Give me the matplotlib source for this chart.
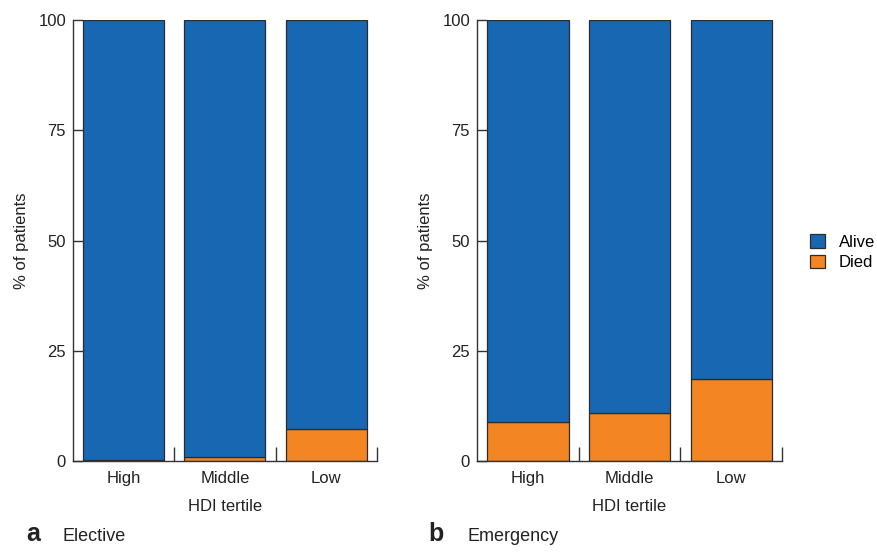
import matplotlib
matplotlib.use("Agg")
import matplotlib.pyplot as plt
from matplotlib.patches import Patch
import numpy as np

plt.rcParams['font.family'] = ['Liberation Sans', 'DejaVu Sans']

categories = ["High", "Middle", "Low"]
elective_died = [0.4, 1.1, 7.4]
emergency_died = [9.0, 11.0, 18.7]
y_ticks = [0, 25, 50, 75, 100]
panel_letters = ["a", "b"]
panel_titles = ["Elective", "Emergency"]
series_names = ["Alive", "Died"]

blue = "#1867B3"
orange = "#F38522"
edge = "#2b2b2b"
axcol = "#333333"

fig = plt.figure(figsize=(8.78, 5.54), dpi=100)
ax_a = fig.add_axes([0.0831, 0.1670, 0.3462, 0.7969])
ax_b = fig.add_axes([0.5433, 0.1670, 0.3474, 0.7969])

for ax, died in zip([ax_a, ax_b], [elective_died, emergency_died]):
    x = np.arange(1, len(categories) + 1)
    died = np.array(died)
    alive = 100 - died
    ax.bar(x, died, width=0.8, color=orange, edgecolor=edge, linewidth=0.9)
    ax.bar(x, alive, bottom=died, width=0.8, color=blue, edgecolor=edge, linewidth=0.9)
    ax.set_xlim(0.5, 3.5)
    ax.set_ylim(0, 100)
    for s in ["top", "right"]:
        ax.spines[s].set_visible(False)
    for s in ["left", "bottom"]:
        ax.spines[s].set_color(axcol)
        ax.spines[s].set_linewidth(1.0)
    ax.set_xticks(x)
    ax.set_xticklabels(categories, fontsize=12, color="#222222")
    ax.tick_params(axis="x", which="major", length=0, pad=7)
    ax.set_xticks([1.5, 2.5, 3.5], minor=True)
    ax.tick_params(axis="x", which="minor", direction="in", length=10, width=1.0, color=axcol)
    ax.set_yticks(y_ticks)
    ax.set_yticklabels([str(v) for v in y_ticks], fontsize=12, color="#222222")
    ax.tick_params(axis="y", direction="in", length=7, width=1.0, color=axcol, pad=5)
    ax.set_xlabel("HDI tertile", fontsize=12, color="#222222", labelpad=9)
    ax.set_ylabel("% of patients", fontsize=12, color="#222222", labelpad=6.5)

fig.text(0.030, 0.023, panel_letters[0], fontsize=18, fontweight="bold", color="#222222")
fig.text(0.071, 0.023, panel_titles[0], fontsize=13, color="#222222")
fig.text(0.488, 0.023, panel_letters[1], fontsize=18, fontweight="bold", color="#222222")
fig.text(0.533, 0.023, panel_titles[1], fontsize=13, color="#222222")

handles = [Patch(facecolor=blue, edgecolor=edge, linewidth=0.9),
           Patch(facecolor=orange, edgecolor=edge, linewidth=0.9)]
fig.legend(handles, series_names, loc="center left", bbox_to_anchor=(0.923, 0.545),
           frameon=False, fontsize=12, handlelength=0.9, handleheight=0.9,
           handletextpad=0.8, labelspacing=0.3, borderaxespad=0, borderpad=0)

fig.savefig("out.png", dpi=100)
